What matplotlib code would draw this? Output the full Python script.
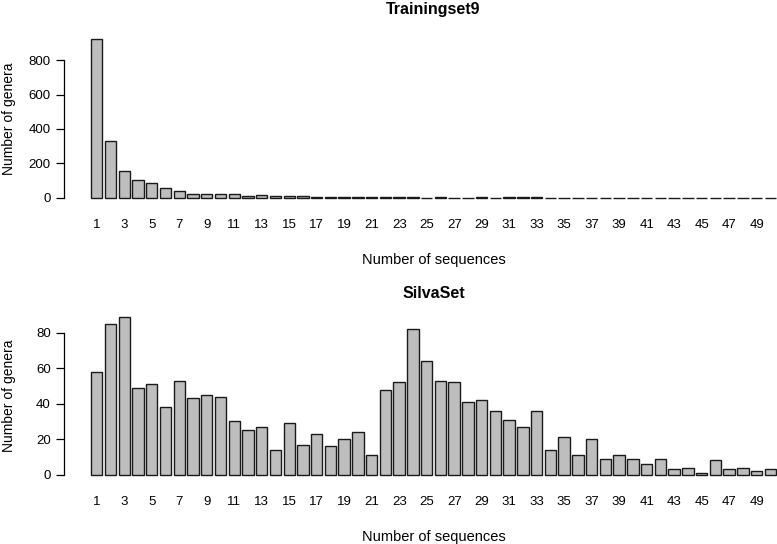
import matplotlib.pyplot as plt
import numpy as np

plt.rcParams['font.family'] = ['Liberation Sans', 'DejaVu Sans']

# Number of sequences per genus (1..50) and the count of genera for each
n_seq = list(range(1, 51))
tick_labels = [str(n) if n % 2 == 1 else '' for n in n_seq]

training = [920, 328, 156, 104, 89, 58, 41, 25, 25, 25,
            25, 14, 17, 9, 9, 9, 5, 3, 3, 3,
            3, 5, 5, 6, 1, 3, 1, 1, 3, 1,
            3, 3, 3, 1, 1, 1, 1, 1, 1, 1,
            1, 1, 1, 1, 1, 1, 1, 1, 1, 1]

silva = [58, 85, 89, 49, 51, 38, 53, 43, 45, 44,
         30, 25, 27, 14, 29, 17, 23, 16, 20, 24,
         11, 48, 52, 82, 64, 53, 52, 41, 42, 36,
         31, 27, 36, 14, 21, 11, 20, 9, 11, 9,
         6, 9, 3, 4, 1, 8, 3, 4, 2, 3]

W, H = 777, 544
fig = plt.figure(figsize=(W / 100, H / 100), dpi=100)

# barplot-like positions: width 1, space 0.2
centers = 0.7 + 1.2 * np.arange(len(n_seq))
xlo, xhi = 0.2 - 0.04 * 59.8, 60 + 0.04 * 59.8


def panel(rect, values, title, yticks, title_pad):
    ax = fig.add_axes(rect)
    ax.bar(centers, values, width=1.0, color='#bebebe', edgecolor='#1a1a1a',
           linewidth=1.0)
    top = max(values)
    ax.set_xlim(xlo, xhi)
    ax.set_ylim(-0.04 * top, 1.04 * top)
    for s in ['top', 'right', 'bottom']:
        ax.spines[s].set_visible(False)
    ax.spines['left'].set_bounds(yticks[0], yticks[-1])
    ax.spines['left'].set_linewidth(0.9)
    ax.set_yticks(yticks)
    ax.set_xticks(centers)
    ax.set_xticklabels(tick_labels)
    ax.tick_params(axis='x', length=0, pad=10.5, labelsize=9.5)
    ax.tick_params(axis='y', length=5.8, width=0.9, pad=3.5, labelsize=9.5)
    ax.set_xlabel('Number of sequences', fontsize=10.5, labelpad=16)
    ax.set_ylabel('Number of genera', fontsize=10)
    ax.yaxis.set_label_coords(-0.064, 0.5)
    ax.set_title(title, fontsize=11.5, fontweight='bold', pad=title_pad)
    return ax


def rect(left, right, top, bottom):
    return [left / W, (H - bottom) / H, (right - left) / W, (bottom - top) / H]


panel(rect(63.6, 803.6, 33, 204.3), training, 'Trainingset9', [0, 200, 400, 600, 800], 14)
panel(rect(63.6, 803.6, 310.5, 481), silva, 'SilvaSet', [0, 20, 40, 60, 80], 9)

fig.savefig('out.png', dpi=100)
